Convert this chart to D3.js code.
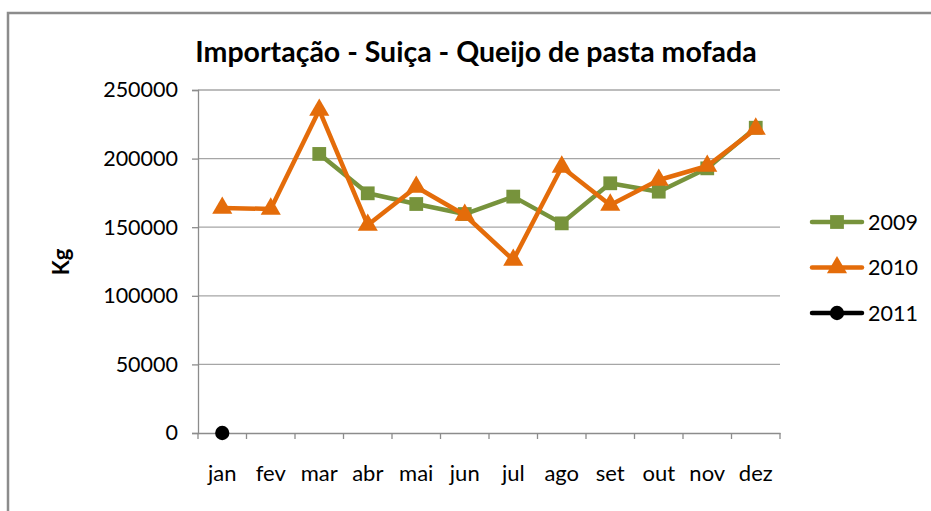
<!DOCTYPE html>
<html>
<head>
<meta charset="utf-8">
<script src="https://cdn.jsdelivr.net/npm/d3@7/dist/d3.min.js"></script>
<style>
  body { margin: 0; background: #fff; }
  text { font-family: Lato, "Liberation Sans", sans-serif; fill: #000; }
</style>
</head>
<body>
<div id="chart"></div>
<script>
const months = ["jan", "fev", "mar", "abr", "mai", "jun", "jul", "ago", "set", "out", "nov", "dez"];
const values2009 = [null, null, 203400, 174700, 166900, 159600, 172300, 152800, 182000, 175900, 192900, 222500];
const values2010 = [164000, 163300, 235400, 151600, 179300, 158900, 126100, 193900, 166200, 184400, 194600, 221600];
const values2011 = [0, null, null, null, null, null, null, null, null, null, null, null];
const yTicks = [0, 50000, 100000, 150000, 200000, 250000];

const width = 931, height = 511;
const margin = { left: 198, right: 151, top: 90, bottom: 78 };

const svg = d3.select("#chart").append("svg")
    .attr("width", width)
    .attr("height", height);

// chart frame (runs past the window on the right and bottom)
svg.append("rect")
    .attr("x", 8).attr("y", 13)
    .attr("width", 940).attr("height", 520)
    .attr("fill", "none")
    .attr("stroke", "#8c8c8c")
    .attr("stroke-width", 2.5);

const x = d3.scaleBand()
    .domain(months)
    .range([margin.left, width - margin.right]);

const y = d3.scaleLinear()
    .domain([0, 250000])
    .range([height - margin.bottom, margin.top]);

// gridlines
svg.append("g")
    .selectAll("line")
    .data(yTicks.filter(d => d > 0))
    .enter().append("line")
    .attr("x1", margin.left).attr("x2", width - margin.right)
    .attr("y1", d => y(d)).attr("y2", d => y(d))
    .attr("stroke", "#a6a6a6")
    .attr("stroke-width", 1.3);

// y axis
const yAxis = svg.append("g")
    .attr("transform", `translate(${margin.left},0)`)
    .call(d3.axisLeft(y).tickValues(yTicks).tickSize(6).tickPadding(14).tickFormat(d3.format("d")));
yAxis.selectAll("text").attr("font-size", 21.5).attr("font-family", "Lato");

// x axis with ticks between categories
const xAxis = svg.append("g")
    .attr("transform", `translate(0,${y(0)})`)
    .call(d3.axisBottom(x).tickSize(0).tickPadding(32));
xAxis.selectAll("text").attr("font-size", 22).attr("font-family", "Lato");
xAxis.selectAll(".sep")
    .data(d3.range(months.length + 1))
    .enter().append("line")
    .attr("class", "sep")
    .attr("x1", i => margin.left + i * x.step())
    .attr("x2", i => margin.left + i * x.step())
    .attr("y1", 0).attr("y2", 6);

svg.selectAll(".domain, .tick line, .sep")
    .attr("stroke", "#8c8c8c")
    .attr("stroke-width", 1.3);

// title
svg.append("text")
    .attr("x", 476).attr("y", 62)
    .attr("text-anchor", "middle")
    .attr("font-size", 28.5)
    .attr("font-weight", "bold")
    .text("Importação - Suiça - Queijo de pasta mofada");

// y label
svg.append("text")
    .attr("transform", "translate(69,262) rotate(-90)")
    .attr("text-anchor", "middle")
    .attr("font-size", 22)
    .attr("font-weight", "bold")
    .text("Kg");

const series = [
    { name: "2009", values: values2009, color: "#77933c", symbol: d3.symbolSquare, size: 190 },
    { name: "2010", values: values2010, color: "#e46c0a", symbol: d3.symbolTriangle, size: 175 },
    { name: "2011", values: values2011, color: "#000000", symbol: d3.symbolCircle, size: 160 }
];

const line = d3.line()
    .defined(d => d.v != null)
    .x(d => x(d.m) + x.bandwidth() / 2)
    .y(d => y(d.v));

series.forEach(s => {
    const pts = months.map((m, i) => ({ m: m, v: s.values[i] }));
    svg.append("path")
        .datum(pts)
        .attr("fill", "none")
        .attr("stroke", s.color)
        .attr("stroke-width", 4.5)
        .attr("stroke-linejoin", "round")
        .attr("d", line);
    svg.append("g")
        .selectAll("path")
        .data(pts.filter(d => d.v != null))
        .enter().append("path")
        .attr("d", d3.symbol().type(s.symbol).size(s.size))
        .attr("transform", d => `translate(${x(d.m) + x.bandwidth() / 2},${y(d.v)})`)
        .attr("fill", s.color);
});

// legend
const legend = svg.append("g")
    .selectAll("g")
    .data(series)
    .enter().append("g")
    .attr("transform", (d, i) => `translate(812,${222 + i * 45.5})`);
legend.append("line")
    .attr("x1", 0).attr("x2", 50)
    .attr("stroke", d => d.color)
    .attr("stroke-width", 4.5)
    .attr("stroke-linecap", "round");
legend.append("path")
    .attr("d", d => d3.symbol().type(d.symbol).size(d.size)())
    .attr("transform", "translate(25,0)")
    .attr("fill", d => d.color);
legend.append("text")
    .attr("x", 56).attr("y", 7.5)
    .attr("font-size", 21.5)
    .text(d => d.name);
</script>
</body>
</html>
